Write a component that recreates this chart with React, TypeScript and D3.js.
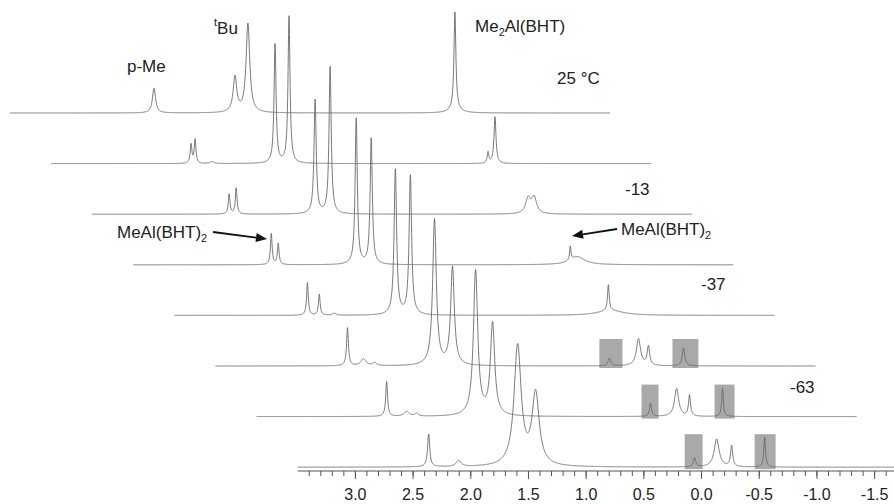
import React from "react";
import * as d3 from "d3";

// Peaks per spectrum: [ppm, height, half-width (ppm)]
const peaksT25 = [[2.252, 25, 0.016], [1.55, 35.5, 0.019], [1.438, 89, 0.019], [-0.356, 98, 0.01], [-0.36, 3, 0.06]];
const peaksT13a = [[2.287, 19, 0.0087], [2.252, 24, 0.0087], [2.105, 2, 0.017], [1.559, 120, 0.0104], [1.438, 147, 0.0104], [-0.287, 11, 0.0087], [-0.347, 47, 0.0104]];
const peaksTm13 = [[2.313, 20, 0.0087], [2.252, 26, 0.0087], [1.568, 114, 0.0113], [1.438, 147, 0.0113], [-0.278, 15, 0.026], [-0.33, 16, 0.026]];
const peaksTm25 = [[2.304, 31, 0.0087], [2.244, 21, 0.0087], [1.568, 146, 0.0113], [1.438, 126, 0.0113], [-0.287, 14, 0.007], [-0.347, 8, 0.078]];
const peaksTm37 = [[2.347, 33, 0.0087], [2.244, 21, 0.0087], [2.114, 2, 0.017], [1.585, 146, 0.013], [1.455, 140, 0.013], [-0.261, 26, 0.0087], [-0.28, 5, 0.13]];
const peaksTm50 = [[2.356, 38, 0.0095], [2.218, 7, 0.026], [2.122, 3, 0.02], [1.602, 146, 0.019], [1.446, 98, 0.019], [0.086, 8, 0.013], [-0.166, 27, 0.0217], [-0.252, 19, 0.013], [-0.556, 18, 0.013]];
const peaksTm63 = [[2.373, 35, 0.0095], [2.2, 5, 0.026], [2.114, 3, 0.017], [1.602, 145, 0.0225], [1.455, 92, 0.0225], [0.086, 13, 0.0104], [-0.14, 28, 0.0217], [-0.252, 21, 0.0104], [-0.538, 28, 0.0087]];
const peaksTm80 = [[2.365, 33, 0.0113], [2.105, 6, 0.026], [1.594, 120, 0.037], [1.438, 71.5, 0.037], [0.06, 9, 0.0113], [-0.131, 28, 0.026], [-0.261, 21, 0.0113], [-0.547, 30, 0.0087]];

const spectra = [peaksT25, peaksT13a, peaksTm13, peaksTm25, peaksTm37, peaksTm50, peaksTm63, peaksTm80];

// highlighted ppm ranges (grey boxes) per spectrum index
const boxSpectrum = [5, 5, 6, 6, 7, 7];
const boxRanges = [[0.173, -0.027], [-0.46, -0.685], [0.164, 0.017], [-0.469, -0.642], [0.146, -0.009], [-0.46, -0.642]];
const boxHeights = [27, 27, 32, 32, 33, 33];

const ppmDomain = [3.5, -1.7];
const majorTicks = [3.0, 2.5, 2.0, 1.5, 1.0, 0.5, 0.0, -0.5, -1.0, -1.5];
const minorTicks = d3.range(34, -18, -1).map((v) => v / 10);

const W = 894, H = 504;
const TRACE_W = 600;
const X0 = 10, Y0 = 113, DX = 41.1, DY = 50.6;
const FONT = "Arial, 'Liberation Sans', sans-serif";

export default function App() {
  const x = d3.scaleLinear().domain(ppmDomain).range([0, TRACE_W]);
  const y = d3.scaleLinear().domain([0, 150]).range([0, -150]);
  const grid = d3.range(ppmDomain[0], ppmDomain[1] - 0.0001, -0.002);
  const line = d3.line<number[]>().x((d) => x(d[0])).y((d) => y(d[1]));

  const paths = spectra.map((pk) =>
    line(
      grid.map((p) => {
        let s = 0;
        for (const [c, h, w] of pk) {
          const t = (p - c) / w;
          s += h / (1 + t * t);
        }
        return [p, s];
      })
    )
  );

  const n = spectra.length;
  const axisX = d3.scaleLinear().domain(ppmDomain).range([X0 + (n - 1) * DX, X0 + (n - 1) * DX + TRACE_W]);
  const axisY = 471;

  const arrow = (x1: number, y1: number, x2: number, y2: number) => {
    const a = Math.atan2(y2 - y1, x2 - x1);
    const L = 11, Wd = 4.5;
    const bx = x2 - L * Math.cos(a), by = y2 - L * Math.sin(a);
    const px = -Math.sin(a) * Wd, py = Math.cos(a) * Wd;
    return (
      <g>
        <line x1={x1} y1={y1} x2={bx} y2={by} stroke="#111" strokeWidth={1.8} />
        <polygon points={`${x2},${y2} ${bx + px},${by + py} ${bx - px},${by - py}`} fill="#111" />
      </g>
    );
  };

  return (
    <div style={{ position: "fixed", left: 0, top: 0 }}>
      <svg width={W} height={H} style={{ display: "block", background: "#fff" }} fontFamily={FONT}>
        {spectra.map((_, i) => (
          <g key={i} transform={`translate(${X0 + i * DX},${Y0 + i * DY})`}>
            {boxRanges.map((r, j) =>
              boxSpectrum[j] === i ? (
                <rect key={j} x={x(r[0])} width={x(r[1]) - x(r[0])} y={-boxHeights[j]} height={boxHeights[j] + 2} fill="#a9a9a9" />
              ) : null
            )}
            <path d={paths[i] || ""} fill="none" stroke="#6a6a6a" strokeWidth={0.9} />
          </g>
        ))}

        {/* axis */}
        <line x1={axisX(ppmDomain[0])} x2={W} y1={axisY} y2={axisY} stroke="#555" strokeWidth={1} />
        {minorTicks.map((t) => (
          <line key={"m" + t} x1={axisX(t)} x2={axisX(t)} y1={axisY} y2={axisY + 5} stroke="#555" strokeWidth={1} />
        ))}
        {majorTicks.map((t) => (
          <g key={"M" + t}>
            <line x1={axisX(t)} x2={axisX(t)} y1={axisY} y2={axisY + 8} stroke="#555" strokeWidth={1} />
            <text x={axisX(t)} y={500} textAnchor="middle" fontSize={16} fill="#222">
              {t.toFixed(1)}
            </text>
          </g>
        ))}

        {/* labels */}
        <text x={127} y={72} fontSize={17} fill="#222">p-Me</text>
        <text x={214} y={34} fontSize={17} fill="#222">
          <tspan fontSize={11} dy={-8}>t</tspan>
          <tspan dy={8}>Bu</tspan>
        </text>
        <text x={475} y={32} fontSize={17} fill="#222">
          Me<tspan fontSize={11} dy={4}>2</tspan>
          <tspan dy={-4}>Al(BHT)</tspan>
        </text>
        <text x={557} y={84} fontSize={17} fill="#222">25 °C</text>
        <text x={625} y={195} fontSize={17} fill="#222">-13</text>
        <text x={701} y={290} fontSize={17} fill="#222">-37</text>
        <text x={790} y={393} fontSize={17} fill="#222">-63</text>

        <text x={117} y={238} fontSize={17} fill="#222">
          MeAl(BHT)<tspan fontSize={11} dy={4}>2</tspan>
        </text>
        {arrow(213, 232, 267, 239)}
        <text x={621} y={235} fontSize={17} fill="#222">
          MeAl(BHT)<tspan fontSize={11} dy={4}>2</tspan>
        </text>
        {arrow(617, 229, 572, 236)}
      </svg>
    </div>
  );
}
